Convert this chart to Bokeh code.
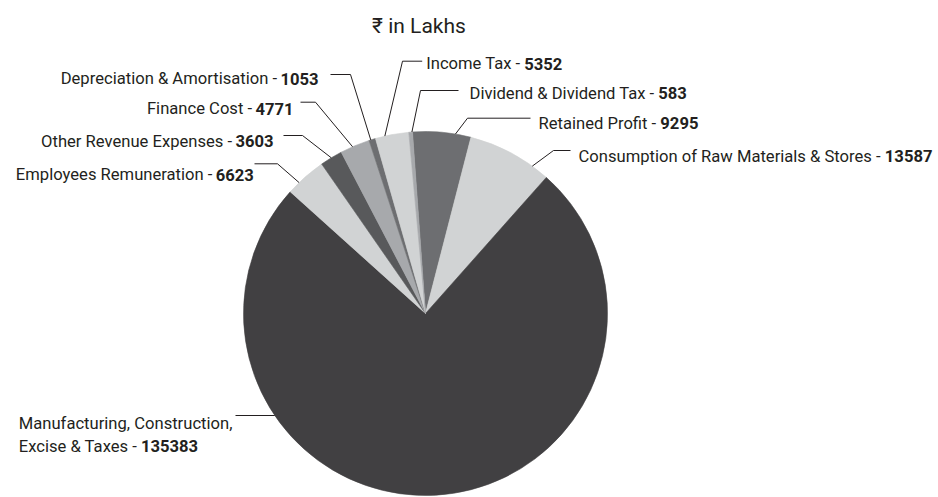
import math
import subprocess
from bokeh.plotting import figure
from bokeh.models import Range1d, ColumnDataSource
from bokeh.core.properties import value
from bokeh.embed import file_html
from bokeh.resources import INLINE

# ---------------- data ----------------
categories = [
    "Retained Profit",
    "Consumption of Raw Materials & Stores",
    "Manufacturing, Construction, Excise & Taxes",
    "Employees Remuneration",
    "Other Revenue Expenses",
    "Finance Cost",
    "Depreciation & Amortisation",
    "Income Tax",
    "Dividend & Dividend Tax",
]
values = [9295, 13587, 135383, 6623, 3603, 4771, 1053, 5352, 583]
title_text = "₹ in Lakhs"

# ---------------- styles ----------------
colors = ["#6d6e71", "#d1d3d4", "#414042", "#d1d3d4", "#58595b",
          "#a7a9ac", "#6d6e71", "#d1d3d4", "#a7a9ac"]
FONT = "Roboto"
FS = 16.6
TITLE_FS = 21
TEXT_COLOR = "#231f20"

# ---------------- layout (picture pixels) ----------------
W, H = 938, 497
CX, CY_PAGE, R = 425, 313, 182
START_DEG = 94.1  # math angle of the leading edge of the first slice

label_side = ["right", "right", "multi", "left", "left", "left", "left", "right", "right"]
label_x = [538, 578, 18.3, 253.3, 273, 293, 318, 425.7, 469]
label_base = [122.7, 155.7, 423.3, 174, 140.7, 108.3, 78.3, 63.3, 92.7]
leader_y = [117.7, 150, 415, 163.3, 135, 101.7, 74, 60.7, 90]
leader_text_x = [530, 570, 235, 254, 283, 300, 330, 421.7, 458]
leader_knee_x = [467, 553, None, 277, 302, 315, 350, 402, 420]
leader_ang_off = [4.3, 7.9, 0, -2.6, 0, -0.8, -0.5, -2.3, 0.4]


def Y(py):
    return 497 - py


def load_font(family, style):
    try:
        from PIL import ImageFont
        path = subprocess.run(["fc-match", "-f", "%{file}", f"{family}:style={style}"],
                              capture_output=True, text=True, timeout=5).stdout.strip()
        return ImageFont.truetype(path, 100)
    except Exception:
        return None


f_reg = load_font(FONT, "Regular")
f_bold = load_font(FONT, "Bold")


def tw(font, s, size=FS):
    if font is None:
        return 0.5 * size * len(s)
    return font.getlength(s) * size / 100.0


# ---------------- figure ----------------
p = figure(width=W, height=H, x_range=Range1d(0, W), y_range=Range1d(497 - H, 497),
           output_backend="svg", toolbar_location=None, min_border=0,
           x_axis_location=None, y_axis_location=None, title=None)
p.grid.visible = False
p.outline_line_color = None
p.background_fill_color = "white"
p.border_fill_color = "white"

total = float(sum(values))
k = 360.0 / total
cum = 0.0
starts, ends, mids = [], [], []
for v in values:
    a0 = START_DEG - cum * k
    a1 = START_DEG - (cum + v) * k
    starts.append(math.radians(a1))
    ends.append(math.radians(a0))
    mids.append((a0 + a1) / 2.0)
    cum += v

src = ColumnDataSource(dict(x=[CX] * len(values), y=[Y(CY_PAGE)] * len(values),
                            start=starts, end=ends, color=colors, cat=categories, val=values))
p.wedge(x="x", y="y", radius=R, start_angle="start", end_angle="end",
        fill_color="color", line_color="color", line_width=0.6, source=src)

# leader lines
xs, ys = [], []
for i in range(len(values)):
    if label_side[i] == "multi":
        dy = leader_y[i] - CY_PAGE
        ex = CX - math.sqrt(R * R - dy * dy)
        xs.append([leader_text_x[i], ex])
        ys.append([Y(leader_y[i]), Y(leader_y[i])])
        continue
    th = math.radians(mids[i] - leader_ang_off[i])
    ex = CX + R * math.cos(th)
    ey = Y(CY_PAGE) + R * math.sin(th)
    xs.append([leader_text_x[i], leader_knee_x[i], ex])
    ys.append([Y(leader_y[i]), Y(leader_y[i]), ey])
p.multi_line(xs, ys, line_color="#231f20", line_width=1)

# labels
sp = tw(f_reg, " ")
L_norm = dict(x=[], y=[], t=[])
R_norm = dict(x=[], y=[], t=[])
L_bold = dict(x=[], y=[], t=[])
R_bold = dict(x=[], y=[], t=[])
for i, (c, v) in enumerate(zip(categories, values)):
    num = str(v)
    if label_side[i] == "right":
        lead = c + " -"
        L_norm["x"].append(label_x[i]); L_norm["y"].append(Y(label_base[i])); L_norm["t"].append(lead)
        bx = label_x[i] + tw(f_reg, lead) + sp
        L_bold["x"].append(bx); L_bold["y"].append(Y(label_base[i])); L_bold["t"].append(num)
    elif label_side[i] == "left":
        lead = c + " -"
        R_bold["x"].append(label_x[i]); R_bold["y"].append(Y(label_base[i])); R_bold["t"].append(num)
        nx = label_x[i] - tw(f_bold, num) - sp
        R_norm["x"].append(nx); R_norm["y"].append(Y(label_base[i])); R_norm["t"].append(lead)
    else:
        parts = c.split(", ")
        line1 = ", ".join(parts[:2]) + ","
        line2 = parts[2] + " -"
        gap = label_base[i] + 22.4
        L_norm["x"] += [label_x[i], label_x[i]]
        L_norm["y"] += [Y(label_base[i]), Y(gap)]
        L_norm["t"] += [line1, line2]
        bx = label_x[i] + tw(f_reg, line2) + sp
        L_bold["x"].append(bx); L_bold["y"].append(Y(gap)); L_bold["t"].append(num)

common = dict(text_font=value(FONT), text_font_size=value(f"{FS}px"),
              text_baseline="alphabetic", text_color=TEXT_COLOR)
p.text(x=L_norm["x"], y=L_norm["y"], text=L_norm["t"], text_align="left", **common)
p.text(x=R_norm["x"], y=R_norm["y"], text=R_norm["t"], text_align="right", **common)
p.text(x=L_bold["x"], y=L_bold["y"], text=L_bold["t"], text_align="left",
       text_font_style="bold", **common)
p.text(x=R_bold["x"], y=R_bold["y"], text=R_bold["t"], text_align="right",
       text_font_style="bold", **common)

# title
p.text(x=[418.5], y=[Y(25.7)], text=[title_text], text_align="center",
       text_baseline="alphabetic", text_font=value(FONT),
       text_font_size=value(f"{TITLE_FS}px"), text_color=TEXT_COLOR)

open("out.html", "w").write(file_html(p, INLINE))
